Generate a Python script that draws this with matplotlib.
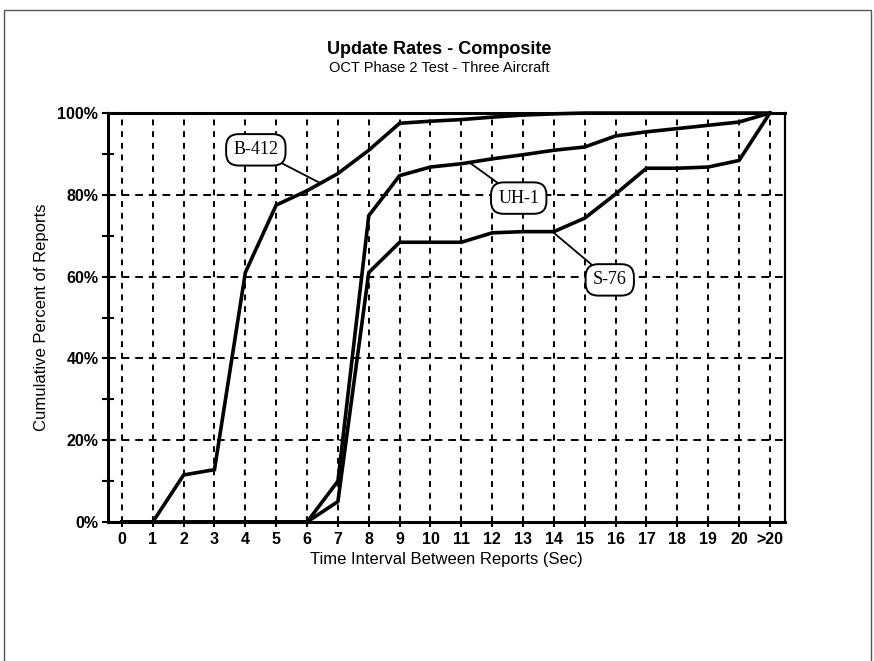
import matplotlib.pyplot as plt
from matplotlib import font_manager
from matplotlib.patches import Rectangle

# data
categories = ['0', '1', '2', '3', '4', '5', '6', '7', '8', '9', '10',
              '11', '12', '13', '14', '15', '16', '17', '18', '19', '20', '>20']
b412 = [0, 0, 11.5, 12.8, 61, 77.5, 81, 85.2, 90.9, 97.5, 98, 98.4, 99, 99.5, 99.8, 100,
        100, 100, 100, 100, 100, 100]
uh1 = [0, 0, 0, 0, 0, 0, 0, 10, 74.9, 84.7, 86.8, 87.6, 88.8, 89.8, 90.9, 91.7,
       94.4, 95.4, 96.2, 97, 97.8, 100]
s76 = [0, 0, 0, 0, 0, 0, 0, 5, 61, 68.4, 68.4, 68.4, 70.7, 71, 71, 74.3,
       80.2, 86.5, 86.5, 86.8, 88.4, 100]
y_ticks = [0, 20, 40, 60, 80, 100]
y_labels = ['0%', '20%', '40%', '60%', '80%', '100%']

names = {f.name for f in font_manager.fontManager.ttflist}
sans = 'Liberation Sans Narrow' if 'Liberation Sans Narrow' in names else 'Liberation Sans'
plt.rcParams['font.family'] = ['Liberation Sans', 'DejaVu Sans']

fig = plt.figure(figsize=(8.74, 6.61), dpi=100)
ax = fig.add_axes([0.1236, 0.2103, 0.7746, 0.6187])

x = list(range(len(categories)))
for ys in (b412, uh1, s76):
    ax.plot(x, ys, color='black', lw=2.6, solid_joinstyle='miter', zorder=3, clip_on=False)

ax.set_xlim(-0.45, 21.49)
ax.set_ylim(0, 100)
ax.set_xticks(x)
ax.set_xticklabels(categories, fontsize=11.5, fontweight='bold')
ax.set_yticks(y_ticks)
ax.set_yticklabels(y_labels, fontsize=11.5, fontweight='bold')
ax.set_yticks(range(10, 100, 20), minor=True)
ax.tick_params(axis='y', which='both', direction='inout', length=8, width=1.5, pad=3)
ax.tick_params(axis='x', direction='inout', length=7, width=1.5, pad=4)

# grid
for xi in x:
    ax.axvline(xi, color='black', lw=1.4, ls=(0, (3, 3)), zorder=1)
for yt in y_ticks[1:-1]:
    ax.axhline(yt, color='black', lw=1.4, ls=(0, (4, 3)), zorder=1)

for sp in ax.spines.values():
    sp.set_linewidth(1.6)
ax.spines['left'].set_linewidth(2.2)
ax.spines['bottom'].set_linewidth(2.2)
ax.spines['top'].set_linewidth(2.2)

ax.set_xlabel('Time Interval Between Reports (Sec)', fontsize=12, labelpad=3)
ax.set_ylabel('Cumulative Percent of Reports', fontsize=12, labelpad=6)

fig.text(0.503, 0.925, 'Update Rates - Composite', ha='center', va='center',
         fontsize=13, fontweight='bold', family=[sans, 'DejaVu Sans'])
fig.text(0.503, 0.897, 'OCT Phase 2 Test - Three Aircraft', ha='center', va='center',
         fontsize=10.5, family=[sans, 'DejaVu Sans'])

# callouts
box = dict(boxstyle='round,pad=0.4,rounding_size=0.7', fc='white', ec='black', lw=1.4)
line = dict(arrowstyle='-', lw=1.3, color='black', shrinkA=0, shrinkB=0)
serif = ['Liberation Serif', 'DejaVu Serif']
ax.annotate('B-412', xy=(6.42, 82.9), xytext=(4.34, 91), ha='center', va='center',
            fontsize=13, family=serif, bbox=box, arrowprops=line, zorder=5)
ax.annotate('UH-1', xy=(11.3, 87.7), xytext=(12.86, 79.2), ha='center', va='center',
            fontsize=13, family=serif, bbox=box, arrowprops=line, zorder=5)
ax.annotate('S-76', xy=(13.95, 71), xytext=(15.81, 59.2), ha='center', va='center',
            fontsize=13, family=serif, bbox=box, arrowprops=line, zorder=5)

# page frame from the scan
fig.patches.append(Rectangle((0.005, -0.01), 0.991, 0.995, transform=fig.transFigure,
                             fill=False, ec='#555555', lw=1.0))

fig.savefig('out.png', dpi=100)
